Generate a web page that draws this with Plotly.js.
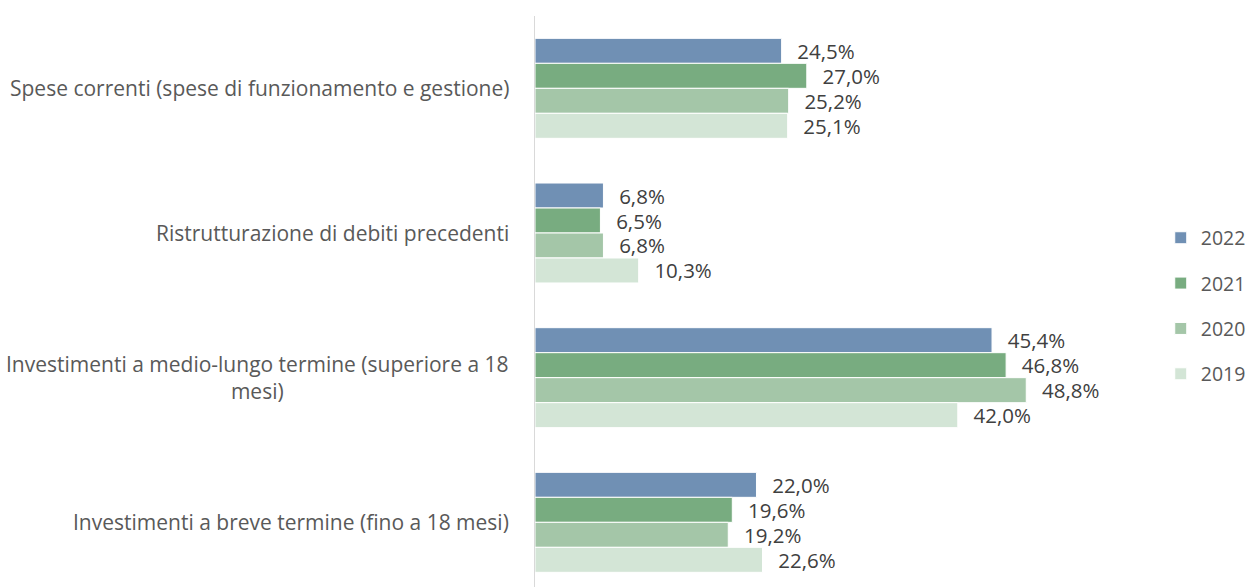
<!DOCTYPE html>
<html>
<head>
<meta charset="utf-8">
<script src="https://cdn.plot.ly/plotly-3.0.1.min.js"></script>
<style>
html,body{margin:0;padding:0;overflow:hidden;background:#fff;}
#chart{width:1250px;height:587px;}
</style>
</head>
<body>
<div id="chart"></div>
<script>
const categories = [
  "Spese correnti (spese di funzionamento e gestione)",
  "Ristrutturazione di debiti precedenti",
  "Investimenti a medio-lungo termine (superiore a 18<br>mesi)",
  "Investimenti a breve termine (fino a 18 mesi)"
];
const seriesNames = ["2022", "2021", "2020", "2019"];
const values2022 = [24.5, 6.8, 45.4, 22.0];
const values2021 = [27.0, 6.5, 46.8, 19.6];
const values2020 = [25.2, 6.8, 48.8, 19.2];
const values2019 = [25.1, 10.3, 42.0, 22.6];
const seriesValues = [values2022, values2021, values2020, values2019];
const colors = ["#7090B4", "#78AC80", "#A4C6A8", "#D3E5D6"];

const FONT = "'Open Sans', 'Liberation Sans', sans-serif";
const pad = "\u00a0\u00a0\u200a";

const traces = seriesNames.map((name, i) => ({
  type: "bar",
  orientation: "h",
  name: name,
  legendgroup: name,
  x: seriesValues[i],
  y: categories,
  marker: {color: colors[i], line: {color: "#ffffff", width: 1}},
  texttemplate: pad + "%{x:.1f}%",
  textposition: "outside",
  constraintext: "none",
  cliponaxis: false,
  textfont: {family: FONT, size: 20.5, color: "#404040"},
  hoverinfo: "x+name"
}));

const annotations = categories.map(c => ({
  text: c,
  x: 0, xref: "paper", xanchor: "right", xshift: -24,
  y: c, yref: "y", yanchor: "middle",
  align: "center",
  showarrow: false,
  font: {family: FONT, size: 21, color: "#595959"}
}));

const layout = {
  width: 1250, height: 587,
  margin: {l: 535, r: 111, t: 16, b: 0, pad: 0, autoexpand: false},
  paper_bgcolor: "#ffffff",
  plot_bgcolor: "#ffffff",
  barmode: "group",
  bargap: 0.309,
  bargroupgap: 0,
  separators: ",.",
  showlegend: true,
  legend: {
    x: 1.036, xanchor: "left", y: 0.492, yanchor: "middle",
    traceorder: "grouped",
    tracegroupgap: 17,
    font: {family: FONT, size: 19.5, color: "#595959"},
    bgcolor: "rgba(0,0,0,0)"
  },
  xaxis: {
    range: [0, 60], showgrid: false, zeroline: false, showline: false,
    showticklabels: false, ticks: "", fixedrange: true
  },
  yaxis: {
    type: "category",
    autorange: false,
    range: [3.447, -0.5],
    showgrid: false, zeroline: false,
    showline: true, linecolor: "#d9d9d9", linewidth: 1.5,
    showticklabels: false, ticks: "", fixedrange: true
  },
  annotations: annotations,
  font: {family: FONT, color: "#595959"}
};

Plotly.newPlot("chart", traces, layout, {displayModeBar: false, staticPlot: true});
</script>
</body>
</html>
